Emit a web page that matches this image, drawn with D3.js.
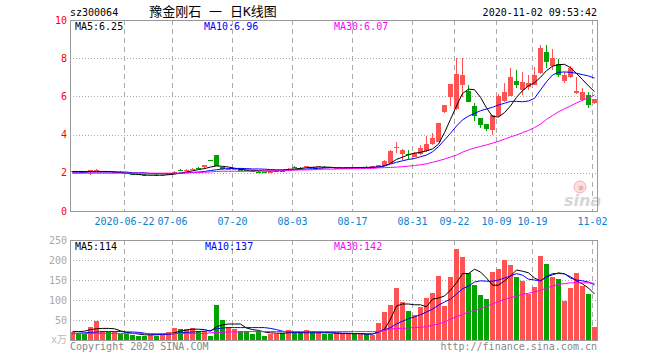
<!DOCTYPE html>
<html><head><meta charset="utf-8">
<script src="https://cdn.jsdelivr.net/npm/d3@7"></script>
<style>body{margin:0;background:#fff;}svg{display:block}</style>
</head><body><svg id="c" width="660" height="360"></svg>
<script>
const tickIdx = [9,17,27,37,47,57,64,71,77,87];
const tickLabels = ["2020-06-22","07-06","07-20","08-03","08-17","08-31","09-22","10-09","10-19","11-02"];
const priceTicks = [0,2,4,6,8,10];
const volTicks = [50,100,150,200,250];

const open  = [2.02,2.07,2.05,2.05,2.12,2.07,2.08,2.04,2.06,2.00,1.96,1.93,1.90,1.87,1.90,1.89,1.90,1.94,2.15,2.16,2.20,2.25,2.29,2.67,2.93,2.28,2.20,2.18,2.23,2.14,2.12,2.05,2.03,2.04,2.08,2.12,2.14,2.30,2.27,2.33,2.30,2.33,2.31,2.28,2.23,2.23,2.25,2.28,2.26,2.32,2.27,2.29,2.36,2.53,3.32,2.98,2.98,2.84,2.97,3.16,3.50,3.63,5.17,5.95,5.32,6.60,6.30,5.50,4.85,4.55,4.24,4.95,5.77,6.04,6.81,6.34,6.48,6.60,7.21,8.34,7.61,7.68,6.81,7.00,6.16,5.81,6.07,5.67];
const high  = [2.09,2.08,2.07,2.16,2.18,2.12,2.10,2.08,2.07,2.01,1.99,1.95,1.92,1.91,1.93,1.93,1.94,2.07,2.20,2.20,2.25,2.28,2.42,2.67,2.93,2.30,2.24,2.24,2.25,2.16,2.14,2.08,2.06,2.10,2.13,2.14,2.23,2.35,2.30,2.38,2.32,2.38,2.35,2.30,2.27,2.26,2.31,2.30,2.31,2.33,2.35,2.41,2.65,3.18,3.63,3.25,3.19,3.07,3.45,3.93,4.10,4.62,5.57,6.66,8.00,8.00,6.60,5.64,4.87,4.58,5.05,6.10,6.69,7.47,7.38,7.29,7.12,7.55,8.69,8.69,8.48,7.96,7.29,7.59,7.03,6.42,6.21,5.88];
const low   = [2.01,2.03,2.02,1.90,2.08,2.05,2.04,2.02,2.01,1.96,1.90,1.88,1.85,1.86,1.86,1.87,1.89,1.93,2.10,2.12,2.17,2.20,2.20,2.66,2.36,2.17,2.18,2.16,2.10,2.10,2.08,2.00,1.98,2.00,2.05,2.08,2.12,2.25,2.22,2.30,2.26,2.29,2.27,2.24,2.21,2.21,2.24,2.25,2.25,2.27,2.26,2.28,2.35,2.52,3.05,2.67,2.71,2.82,2.95,3.10,3.48,3.60,5.15,5.50,5.30,5.98,5.70,4.73,4.36,4.20,3.98,4.90,5.72,6.00,6.46,6.07,6.34,6.58,7.19,7.47,7.38,7.02,6.69,6.98,6.14,5.78,5.41,5.59];
const close = [2.08,2.04,2.03,2.15,2.13,2.10,2.05,2.06,2.02,1.97,1.95,1.90,1.87,1.90,1.89,1.90,1.93,2.05,2.14,2.17,2.21,2.24,2.41,2.66,2.36,2.20,2.22,2.22,2.12,2.12,2.10,2.04,2.02,2.06,2.10,2.10,2.22,2.29,2.26,2.34,2.28,2.34,2.30,2.25,2.25,2.24,2.30,2.27,2.30,2.28,2.34,2.39,2.63,3.16,3.34,3.19,2.96,3.05,3.31,3.51,3.84,4.59,5.55,6.65,7.17,7.12,5.72,4.97,4.50,4.28,5.03,6.03,6.25,7.02,6.60,6.77,6.72,7.12,8.55,7.82,7.99,7.12,7.12,7.47,6.28,6.25,5.55,5.86];

const ma5  = [2.07,2.07,2.07,2.07,2.07,2.07,2.07,2.05,2.02,1.98,1.94,1.91,1.89,1.88,1.88,1.88,1.90,1.93,1.99,2.05,2.10,2.17,2.22,2.30,2.36,2.34,2.30,2.24,2.18,2.15,2.13,2.11,2.10,2.09,2.10,2.14,2.18,2.20,2.23,2.27,2.29,2.30,2.30,2.29,2.26,2.24,2.24,2.25,2.26,2.27,2.28,2.30,2.36,2.50,2.70,2.82,2.95,3.03,3.07,3.15,3.25,3.50,4.10,4.80,5.50,6.15,6.38,6.35,5.95,5.40,4.95,4.92,5.15,5.50,5.95,6.30,6.55,6.72,7.00,7.35,7.58,7.66,7.68,7.50,7.20,6.88,6.55,6.25];
const ma10 = [2.00,2.00,2.04,2.04,2.04,2.04,2.04,2.04,2.04,2.04,2.00,2.00,2.00,1.96,1.96,1.96,1.96,1.96,1.97,2.00,2.02,2.04,2.07,2.12,2.16,2.20,2.22,2.23,2.23,2.22,2.20,2.20,2.19,2.17,2.16,2.15,2.15,2.17,2.18,2.20,2.22,2.23,2.25,2.27,2.27,2.27,2.27,2.27,2.28,2.28,2.29,2.30,2.36,2.46,2.55,2.63,2.70,2.75,2.84,2.93,3.10,3.37,3.72,4.07,4.45,4.77,4.97,5.11,5.25,5.34,5.43,5.55,5.64,5.74,5.74,5.72,5.76,5.90,6.34,6.77,7.12,7.26,7.28,7.26,7.21,7.14,7.07,6.96];
const ma30 = [1.98,1.98,1.98,1.98,1.98,1.98,1.98,1.98,1.98,1.98,1.98,1.98,1.98,1.98,1.98,1.98,1.98,1.98,1.99,2.00,2.01,2.02,2.03,2.05,2.07,2.08,2.08,2.08,2.08,2.08,2.09,2.09,2.10,2.10,2.11,2.11,2.13,2.14,2.15,2.15,2.16,2.18,2.19,2.19,2.20,2.21,2.21,2.22,2.22,2.23,2.23,2.26,2.27,2.28,2.30,2.32,2.35,2.38,2.42,2.47,2.55,2.63,2.72,2.82,2.93,3.08,3.20,3.30,3.38,3.46,3.55,3.65,3.76,3.88,3.98,4.10,4.22,4.37,4.55,4.80,5.00,5.20,5.35,5.50,5.66,5.80,5.93,6.07];

const vol   = [20,14,14,32,47,22,20,19,14,14,13,11,9,12,10,12,19,29,27,27,29,22,22,9,87,50,33,28,22,22,16,22,11,16,15,18,24,19,20,24,22,19,14,15,17,16,16,16,16,16,12,43,70,87,131,95,73,62,83,105,118,159,85,158,227,207,167,138,112,102,170,177,199,188,158,148,114,133,210,190,158,152,98,129,168,135,114,33];
const vma5  = [21,21,22,26,28,29,29,28,23,19,17,15,13,13,13,14,16,18,22,25,27,27,26,22,33,38,40,40,40,30,26,24,20,18,17,17,18,19,19,20,21,20,19,18,17,16,16,16,16,15,15,20,27,52,85,90,90,88,88,83,102,105,110,125,143,166,166,177,170,155,137,137,148,160,175,172,168,155,148,158,163,168,165,158,148,140,130,115];
const vma10 = [16,17,18,19,20,21,21,21,21,20,20,19,17,15,14,14,14,16,18,19,20,21,22,24,28,30,31,31,31,31,31,31,31,29,26,22,20,19,18,18,18,18,18,18,18,17,17,16,16,15,15,20,25,31,40,47,53,58,63,70,77,87,95,102,115,128,135,145,148,147,147,150,155,160,166,162,152,150,148,158,166,166,166,155,150,148,145,138];
const vma30 = [16,16,16,16,16,16,16,16,16,16,16,16,16,16,16,16,16,16,16,16,16,16,16,18,19,19,20,20,20,21,21,21,21,21,21,21,21,21,21,21,21,21,21,21,21,21,21,21,21,21,21,21,24,27,29,29,30,31,32,33,37,40,45,52,58,64,70,74,79,84,90,96,101,106,110,114,117,120,124,130,135,139,141,143,143,143,143,142];

const RED = "#ff5353", GREEN = "#00a300";
const MONO = "'DejaVu Sans Mono', monospace";
const svg = d3.select("#c");
const n = close.length;
const L = 70, R = 597, T = 20, B = 211, VT = 240, VB = 340;

const x = d3.scaleBand().domain(d3.range(n)).range([L, R]).paddingInner(1/6).paddingOuter(0);
const bw = x.bandwidth();
const cx = i => x(i) + Math.floor(bw/2) + 0.5;
const y = d3.scaleLinear().domain([0,10]).range([B, T]);
const yv = d3.scaleLinear().domain([0,250]).range([VB, VT]);
const isUp = i => close[i] > open[i] || (close[i] === open[i] && (i === 0 || close[i] >= close[i-1]));

// gridlines
const grid = svg.append("g").attr("shape-rendering","crispEdges");
[2,4,6,8].forEach(v => grid.append("line").attr("x1",L).attr("x2",R).attr("y1",Math.round(y(v))+0.5).attr("y2",Math.round(y(v))+0.5)
  .attr("stroke","#aaa").attr("stroke-dasharray","1,2"));
[50,100,150,200].forEach(v => grid.append("line").attr("x1",L).attr("x2",R).attr("y1",Math.round(yv(v))+0.5).attr("y2",Math.round(yv(v))+0.5)
  .attr("stroke","#aaa").attr("stroke-dasharray","1,2"));
tickIdx.forEach(i => {
  grid.append("line").attr("x1",x(i)+0.5).attr("x2",x(i)+0.5).attr("y1",T).attr("y2",B).attr("stroke","#aaa").attr("stroke-dasharray","5,4");
  grid.append("line").attr("x1",x(i)+0.5).attr("x2",x(i)+0.5).attr("y1",VT).attr("y2",VB).attr("stroke","#aaa").attr("stroke-dasharray","5,4");
});

// sina watermark
const wm = svg.append("g");
wm.append("circle").attr("cx",580).attr("cy",187).attr("r",6).attr("fill","#fbe0e0").attr("stroke","#f3b0b0");
wm.append("circle").attr("cx",581).attr("cy",188).attr("r",2.5).attr("fill","#f3b0b0");
wm.append("text").attr("x",564).attr("y",206).attr("font-family","'DejaVu Sans', sans-serif").attr("font-style","italic")
  .attr("font-weight","bold").attr("font-size",16).attr("fill","#d6d6d6").text("sina");

// candles
const cg = svg.append("g").attr("shape-rendering","crispEdges");
d3.range(n).forEach(i => {
  const col = isUp(i) ? RED : GREEN;
  cg.append("line").attr("x1",cx(i)).attr("x2",cx(i)).attr("y1",y(high[i])).attr("y2",y(low[i])).attr("stroke",col);
  const top = y(Math.max(open[i],close[i])), bot = y(Math.min(open[i],close[i]));
  cg.append("rect").attr("x",x(i)).attr("width",bw).attr("y",top).attr("height",Math.max(1,bot-top)).attr("fill",col);
});

// volume bars
const vg = svg.append("g").attr("shape-rendering","crispEdges");
d3.range(n).forEach(i => {
  vg.append("rect").attr("x",x(i)).attr("width",bw).attr("y",yv(vol[i])).attr("height",VB - yv(vol[i])).attr("fill",isUp(i)?RED:GREEN);
});

// MA lines
const lineP = arr => d3.line().x((d,i)=>cx(i)).y(d=>y(d))(arr);
const lineV = arr => d3.line().x((d,i)=>cx(i)).y(d=>yv(d))(arr);
[[ma5,"#000"],[ma10,"#0000ff"],[ma30,"#ff00ff"]].forEach(([a,c]) =>
  svg.append("path").attr("d",lineP(a)).attr("fill","none").attr("stroke",c).attr("stroke-width",1));
[[vma5,"#000"],[vma10,"#0000ff"],[vma30,"#ff00ff"]].forEach(([a,c]) =>
  svg.append("path").attr("d",lineV(a)).attr("fill","none").attr("stroke",c).attr("stroke-width",1));

// borders
const bd = svg.append("g").attr("shape-rendering","crispEdges").attr("fill","none").attr("stroke","#999");
bd.append("rect").attr("x",L+0.5).attr("y",T+0.5).attr("width",R-L).attr("height",B-T);
bd.append("rect").attr("x",L+0.5).attr("y",VT+0.5).attr("width",R-L).attr("height",VB-VT);

// axes labels
const ax = svg.append("g").attr("font-family",MONO).attr("font-size",10);
priceTicks.forEach(v => ax.append("text").attr("x",67).attr("y",y(v)+3.5).attr("text-anchor","end").attr("fill","#f00").text(v));
volTicks.forEach(v => ax.append("text").attr("x",67).attr("y",yv(v)+3.5).attr("text-anchor","end").attr("fill","#aaa").text(v));
ax.append("text").attr("x",67).attr("y",yv(0)+3).attr("text-anchor","end").attr("fill","#bbb")
  .attr("font-family","'DejaVu Sans Mono','Noto Sans CJK SC',monospace").text("x万");
tickIdx.forEach((i,k) => ax.append("text").attr("x",x(i)+0.5).attr("y",225).attr("text-anchor","middle").attr("fill","#0a7fd0").text(tickLabels[k]));

// header
const hd = svg.append("g").attr("font-family",MONO).attr("font-size",10);
hd.append("text").attr("x",70).attr("y",16).attr("fill","#000").text("sz300064");
svg.append("text").attr("x",213).attr("y",16).attr("text-anchor","middle").attr("font-size",13)
  .attr("font-family","'DejaVu Sans Mono','Noto Sans CJK SC',sans-serif").attr("fill","#000").text("豫金刚石 一 日K线图");
hd.append("text").attr("x",597).attr("y",16).attr("text-anchor","end").attr("fill","#000").text("2020-11-02 09:53:42");

// MA legends
const lg = svg.append("g").attr("font-family",MONO).attr("font-size",10);
lg.append("text").attr("x",75).attr("y",30).attr("fill","#000").text("MA5:" + ma5[n-1].toFixed(2));
lg.append("text").attr("x",204).attr("y",30).attr("fill","#0000ff").text("MA10:" + ma10[n-1].toFixed(2));
lg.append("text").attr("x",334).attr("y",30).attr("fill","#ff00ff").text("MA30:" + ma30[n-1].toFixed(2));
lg.append("text").attr("x",75).attr("y",250).attr("fill","#000").text("MA5:114");
lg.append("text").attr("x",205).attr("y",250).attr("fill","#0000ff").text("MA10:137");
lg.append("text").attr("x",334).attr("y",250).attr("fill","#ff00ff").text("MA30:142");

// footer
const ft = svg.append("g").attr("font-family",MONO).attr("font-size",10).attr("fill","#888");
ft.append("text").attr("x",70).attr("y",350).text("Copyright 2020 SINA.COM");
ft.append("text").attr("x",597).attr("y",350).attr("text-anchor","end").text("http://finance.sina.com.cn");
</script></body></html>
